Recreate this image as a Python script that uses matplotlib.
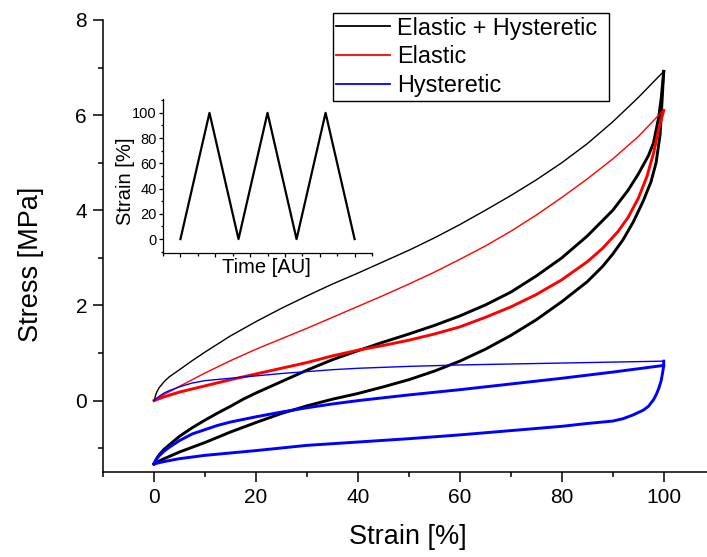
"""Stress-strain loops: elastic + hysteretic model, with strain history inset"""
import matplotlib
matplotlib.use("Agg")
import matplotlib.pyplot as plt
from matplotlib.ticker import MultipleLocator, NullFormatter

plt.rcParams['font.family'] = ['Liberation Sans', 'DejaVu Sans']

# --- data (strain %, stress MPa) ---
# Elastic + Hysteretic
eh_load1_x = [0, 0.5, 1, 2, 3, 5, 7.5, 10, 15, 20, 25, 30, 35, 40, 45, 50, 55, 60, 65, 70, 75, 80, 85, 90, 95, 100]
eh_load1_y = [0, 0.17, 0.27, 0.4, 0.5, 0.65, 0.84, 1.02, 1.36, 1.66, 1.94, 2.2, 2.45, 2.68, 2.92, 3.16, 3.42, 3.7, 4.0, 4.31, 4.64, 5.0, 5.4, 5.86, 6.37, 6.92]
eh_reload_x = [0, 0.5, 1, 2, 3, 5, 7.5, 10, 12.5, 15, 17.5, 20, 25, 30, 35, 40, 45, 50, 55, 60, 65, 70, 75, 80, 85, 90, 93, 95, 97, 98, 99, 99.5, 100]
eh_reload_y = [-1.33, -1.22, -1.14, -1.02, -0.93, -0.75, -0.57, -0.41, -0.26, -0.12, 0.03, 0.16, 0.4, 0.64, 0.86, 1.05, 1.23, 1.4, 1.58, 1.78, 2.01, 2.28, 2.62, 3.0, 3.46, 4.0, 4.42, 4.76, 5.15, 5.42, 5.95, 6.35, 6.92]
eh_unload_x = [100, 99.3, 98.5, 97.5, 96, 94, 92, 90, 88, 85, 80, 75, 70, 65, 60, 55, 50, 45, 40, 35, 30, 25, 20, 15, 10, 5, 2, 1, 0]
eh_unload_y = [6.92, 5.6, 5.0, 4.6, 4.2, 3.75, 3.38, 3.08, 2.82, 2.5, 2.08, 1.7, 1.37, 1.08, 0.83, 0.62, 0.44, 0.29, 0.15, 0.03, -0.11, -0.27, -0.46, -0.66, -0.88, -1.08, -1.22, -1.27, -1.33]

# Elastic
el_load1_x = [0, 1, 2, 5, 10, 15, 20, 25, 30, 35, 40, 45, 50, 55, 60, 65, 70, 75, 80, 85, 90, 95, 100]
el_load1_y = [0, 0.07, 0.13, 0.3, 0.58, 0.84, 1.08, 1.3, 1.52, 1.75, 1.98, 2.21, 2.45, 2.7, 2.97, 3.25, 3.56, 3.9, 4.27, 4.66, 5.08, 5.55, 6.11]
el_cycle_x = [0, 1, 2, 5, 10, 15, 20, 25, 30, 35, 40, 45, 50, 55, 60, 65, 70, 75, 80, 85, 88, 91, 93, 95, 96.7, 98, 99, 100]
el_cycle_y = [0, 0.04, 0.08, 0.18, 0.31, 0.44, 0.56, 0.68, 0.8, 0.94, 1.06, 1.16, 1.27, 1.4, 1.55, 1.75, 1.97, 2.23, 2.54, 2.92, 3.2, 3.55, 3.85, 4.25, 4.71, 5.2, 5.7, 6.1]

# Hysteretic
hy_load1_x = [0, 0.5, 1, 2, 3, 5, 7.5, 10, 15, 20, 25, 30, 35, 40, 50, 60, 70, 80, 90, 100]
hy_load1_y = [0, 0.05, 0.09, 0.16, 0.21, 0.29, 0.37, 0.42, 0.47, 0.52, 0.57, 0.61, 0.65, 0.68, 0.72, 0.75, 0.77, 0.79, 0.81, 0.83]
hy_unload_x = [100, 100, 99.8, 99.5, 99, 98.5, 98, 97, 96, 94, 92, 90, 85, 80, 70, 60, 50, 40, 30, 20, 10, 5, 2, 0]
hy_unload_y = [0.83, 0.74, 0.6, 0.42, 0.25, 0.12, 0.02, -0.12, -0.2, -0.3, -0.38, -0.43, -0.48, -0.54, -0.63, -0.72, -0.8, -0.87, -0.94, -1.05, -1.15, -1.22, -1.28, -1.33]
hy_reload_x = [0, 0.5, 1, 2, 3, 5, 7.5, 10, 12.5, 15, 20, 25, 30, 35, 40, 50, 60, 70, 80, 90, 100]
hy_reload_y = [-1.33, -1.23, -1.16, -1.06, -0.98, -0.84, -0.7, -0.61, -0.52, -0.45, -0.34, -0.24, -0.15, -0.07, 0.0, 0.12, 0.23, 0.35, 0.47, 0.6, 0.74]

# inset: strain history
time_au = [0, 5, 10, 15, 20, 25, 30]
strain_hist = [0, 100, 0, 100, 0, 100, 0]

fig = plt.figure(figsize=(7.07, 5.57), dpi=100)
ax = fig.add_axes([0.1457, 0.1526, 0.8652, 0.8115])

thin, thick = 1.0, 2.1
# black
ax.plot(eh_load1_x, eh_load1_y, color='black', lw=thin, label='Elastic + Hysteretic')
ax.plot(eh_unload_x, eh_unload_y, color='black', lw=thick)
ax.plot(eh_reload_x, eh_reload_y, color='black', lw=thick)
# red
ax.plot(el_load1_x, el_load1_y, color='red', lw=thin, label='Elastic')
ax.plot(el_cycle_x, el_cycle_y, color='red', lw=thick)
# blue
ax.plot(hy_load1_x, hy_load1_y, color='blue', lw=thin, label='Hysteretic')
ax.plot(hy_unload_x, hy_unload_y, color='blue', lw=thick)
ax.plot(hy_reload_x, hy_reload_y, color='blue', lw=thick)

ax.set_xlim(-10, 110)
ax.set_ylim(-1.5, 8)
ax.xaxis.set_major_locator(MultipleLocator(20))
ax.xaxis.set_minor_locator(MultipleLocator(10))
ax.yaxis.set_major_locator(MultipleLocator(2))
ax.yaxis.set_minor_locator(MultipleLocator(1))
for s in ['top', 'right']:
    ax.spines[s].set_visible(False)
for s in ['left', 'bottom']:
    ax.spines[s].set_linewidth(1.1)
ax.tick_params(which='major', direction='out', length=7, width=1.1, labelsize=15, pad=4.5)
ax.tick_params(which='minor', direction='out', length=3.8, width=1.1)
ax.set_xlabel('Strain [%]', fontsize=19.5)
ax.set_ylabel('Stress [MPa]', fontsize=19.5)
ax.xaxis.set_label_coords(0.4986, -0.114)
ax.yaxis.set_label_coords(-0.096, 0.46)

leg = ax.legend(loc='upper left', mode='expand',
                bbox_to_anchor=(332.5 / 707, 1 - 101 / 557, 276.5 / 707, 88 / 557),
                bbox_transform=fig.transFigure,
                fontsize=16.8, handlelength=2.3, handletextpad=0.3, borderpad=0.15,
                labelspacing=0.25, borderaxespad=0, fancybox=False, framealpha=1)
leg.get_frame().set_edgecolor('black')
leg.get_frame().set_linewidth(1.0)
for line in leg.get_lines():
    line.set_linewidth(1.3)

# inset
axi = fig.add_axes([0.2306, 0.5458, 0.2956, 0.2765])
axi.set_facecolor('none')
axi.plot(time_au, strain_hist, color='black', lw=1.6)
axi.set_xlim(-3, 33)
axi.set_ylim(-11, 111)
axi.xaxis.set_major_locator(MultipleLocator(6))
axi.xaxis.set_minor_locator(MultipleLocator(3))
axi.xaxis.set_major_formatter(NullFormatter())
axi.yaxis.set_major_locator(MultipleLocator(20))
axi.yaxis.set_minor_locator(MultipleLocator(10))
for s in ['top', 'right']:
    axi.spines[s].set_visible(False)
for s in ['left', 'bottom']:
    axi.spines[s].set_linewidth(0.9)
axi.tick_params(which='major', direction='out', length=3, width=0.9, labelsize=10.5, pad=1.5)
axi.tick_params(which='minor', direction='out', length=1.8, width=0.9)
axi.set_xlabel('Time [AU]', fontsize=14.5)
axi.set_ylabel('Strain [%]', fontsize=14.5)
axi.xaxis.set_label_coords(0.496, -0.035)
axi.yaxis.set_label_coords(-0.135, 0.463)

fig.savefig('out.png', dpi=100)
